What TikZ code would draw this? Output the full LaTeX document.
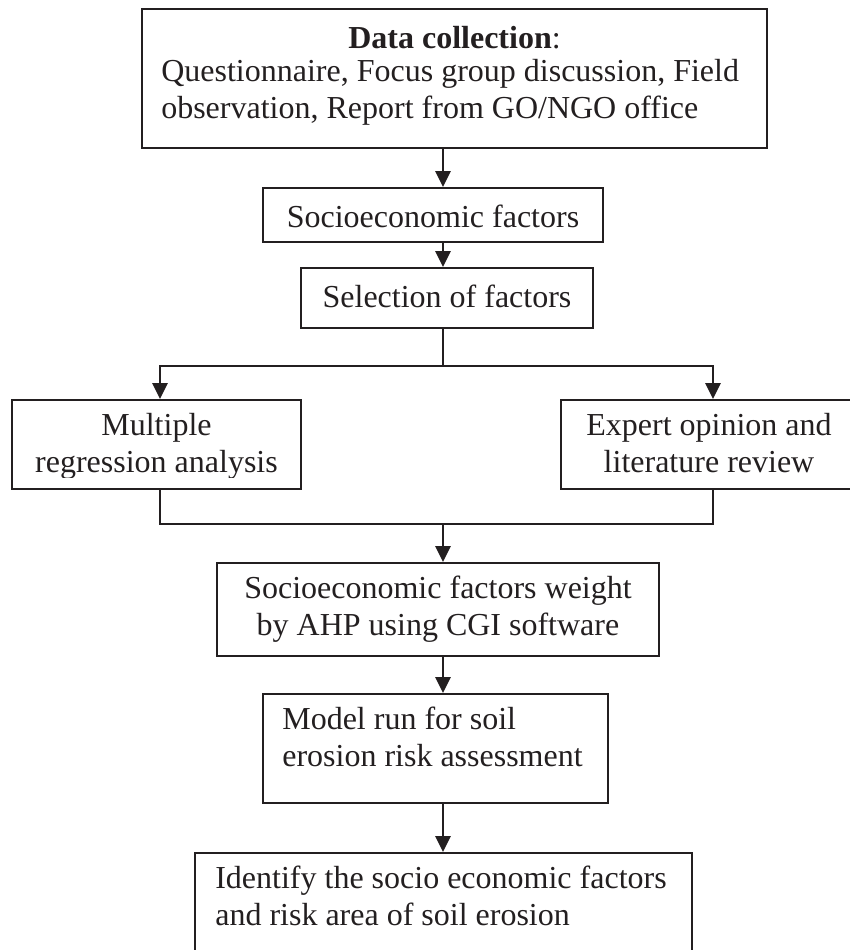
\documentclass[tikz,border=0pt]{standalone}
\usepackage{fontspec}
\setmainfont{Liberation Serif}
\usetikzlibrary{positioning, arrows.meta}
\definecolor{ink}{RGB}{35,31,32}

\begin{document}
\begin{tikzpicture}[x=1pt, y=-1pt,
        box/.style={draw=ink, line width=1.8pt, inner sep=0pt},
        txt/.style={inner sep=0pt, text=ink, font=\fontsize{32}{37}\selectfont, execute at begin node=\strut},
        link/.style={draw=ink, line width=2.8pt},
        arr/.style={link, -{Triangle[length=16pt, width=15pt]}}]
                \useasboundingbox (0,0) rectangle (850,950);
                \clip (0,0) rectangle (850,950);

                \node[box, minimum width=625pt, minimum height=139pt] (dc) at (454.5,78.5) {};
                \node[box, minimum width=340pt, minimum height=54pt] (soc) at (433,215) {};
                \node[box, minimum width=292pt, minimum height=60pt] (sel) at (447,298) {};
                \node[box, minimum width=289pt, minimum height=89pt] (mra) at (156.5,444.5) {};
                \node[box, minimum width=296pt, minimum height=89pt] (exp) at (709,444.5) {};
                \node[box, minimum width=442pt, minimum height=93pt] (wgt) at (438,609.5) {};
                \node[box, minimum width=345pt, minimum height=109pt] (mod) at (435.5,748.5) {};
                \node[box, minimum width=497pt, minimum height=112pt] (idt) at (443.5,909) {};

                \node[txt, below=14.1pt of dc.north] (dctitle) {\textbf{Data collection}:};
                \node[txt, align=left, below right=51.1pt and 20pt of dc.north west] (dcbody) {Questionnaire, Focus group discussion, Field\\observation, Report from GO/NGO office};
                \node[txt, below=14.1pt of soc.north] (soctext) {Socioeconomic factors};
                \node[txt, below=14.1pt of sel.north] (seltext) {Selection of factors};
                \begin{scope}
                        \clip (mra.north west) rectangle ([yshift=12pt]mra.south east);
                        \node[txt, align=center, below=14.1pt of mra.north] (mratext) {Multiple\\regression analysis};
                \end{scope}
                \node[txt, align=center, below=14.1pt of exp.north] (exptext) {Expert opinion and\\literature review};
                \begin{scope}
                        \clip (wgt.north west) rectangle ([yshift=12pt]wgt.south east);
                        \node[txt, align=center, below=14.1pt of wgt.north] (wgttext) {Socioeconomic factors weight\\by AHP using CGI software};
                \end{scope}
                \node[txt, align=left, below right=14.1pt and 20pt of mod.north west] (modtext) {Model run for soil\\erosion risk assessment};
                \node[txt, align=left, below right=14.1pt and 21pt of idt.north west] (idttext) {Identify the socio economic factors\\and risk area of soil erosion};

                \coordinate (axis) at (443,0);
                \coordinate (lx) at (160,0);
                \coordinate (rx) at (713,0);
                \coordinate (split) at (443,366);
                \coordinate (merge) at (443,524);

                \draw[arr] (dc.south -| axis) -- (soc.north -| axis);
                \draw[arr] (soc.south -| axis) -- (sel.north -| axis);
                \draw[link] (sel.south -| axis) -- (split);
                \draw[arr] (split) -| (mra.north -| lx);
                \draw[arr] (split) -| (exp.north -| rx);
                \draw[link] (mra.south -| lx) |- (merge) -| (exp.south -| rx);
                \draw[arr] (merge) -- (wgt.north -| axis);
                \draw[arr] (wgt.south -| axis) -- (mod.north -| axis);
                \draw[arr] (mod.south -| axis) -- (idt.north -| axis);
            \end{tikzpicture}
\end{document}
